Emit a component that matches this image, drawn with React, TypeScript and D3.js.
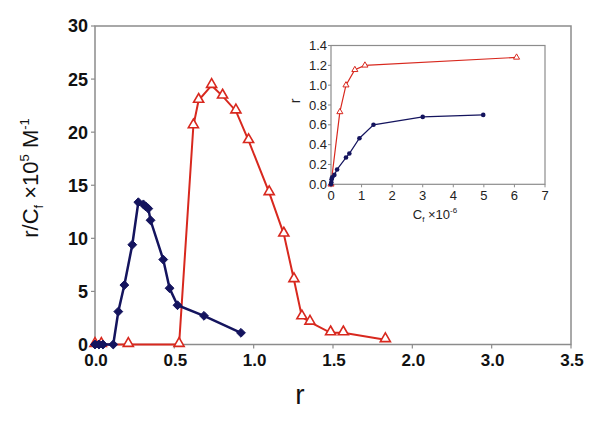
import React from "react";
import * as d3 from "d3";

// Main chart: Scatchard-type plot (r vs r/Cf)
const mainXTicks = [0, 0.5, 1.0, 1.5, 2.0, 2.5, 3.0];
const mainXTickLabels = ["0.0", "0.5", "1.0", "1.5", "2.0", "3.0", "3.5"];
const mainYTicks = [0, 5, 10, 15, 20, 25, 30];

const blueR = [0, 0.025, 0.05, 0.115, 0.147, 0.185, 0.235, 0.273, 0.305, 0.32, 0.336, 0.35, 0.43, 0.47, 0.52, 0.687, 0.92];
const blueRC = [0, 0, 0, 0, 3.1, 5.6, 9.4, 13.4, 13.2, 13.0, 12.8, 11.7, 8.0, 5.3, 3.7, 2.7, 1.1];

const redR = [0, 0.04, 0.21, 0.53, 0.62, 0.653, 0.735, 0.804, 0.888, 0.968, 1.098, 1.19, 1.254, 1.304, 1.355, 1.485, 1.565, 1.83];
const redRC = [0, 0, 0, 0, 20.6, 23.0, 24.4, 23.4, 22.0, 19.2, 14.3, 10.4, 6.1, 2.6, 2.1, 1.1, 1.1, 0.45];

// Inset: binding isotherm (Cf x 10^-6 vs r)
const insetXTicks = [0, 1, 2, 3, 4, 5, 6, 7];
const insetYTicks = [0, 0.2, 0.4, 0.6, 0.8, 1.0, 1.2, 1.4];

const insetBlueCf = [0, 0.01, 0.02, 0.04, 0.11, 0.2, 0.49, 0.6, 0.93, 1.39, 3.0, 4.98];
const insetBlueR = [0, 0.02, 0.05, 0.07, 0.095, 0.15, 0.27, 0.31, 0.465, 0.6, 0.68, 0.7];

const insetRedCf = [0, 0.29, 0.49, 0.78, 1.11, 6.07];
const insetRedR = [0, 0.73, 1.0, 1.155, 1.2, 1.28];

const BLUE = "#14145e";
const RED = "#d8281e";
const GRAY = "#8c8c8c";

export default function App() {
  const W = 600, H = 422;
  // main plot area
  const mx = d3.scaleLinear().domain([0, 3]).range([95, 571]);
  const my = d3.scaleLinear().domain([0, 30]).range([344.5, 26]);
  // inset plot area
  const ix = d3.scaleLinear().domain([0, 7]).range([331, 545]);
  const iy = d3.scaleLinear().domain([0, 1.4]).range([184.3, 45.5]);

  const mainLine = d3.line<[number, number]>().x(d => mx(d[0])).y(d => my(d[1]));
  const insetLine = d3.line<[number, number]>().x(d => ix(d[0])).y(d => iy(d[1]));

  const bluePts: [number, number][] = blueR.map((r, i) => [r, blueRC[i]]);
  const redPts: [number, number][] = redR.map((r, i) => [r, redRC[i]]);
  const iBluePts: [number, number][] = insetBlueCf.map((c, i) => [c, insetBlueR[i]]);
  const iRedPts: [number, number][] = insetRedCf.map((c, i) => [c, insetRedR[i]]);

  const diamond = d3.symbol().type(d3.symbolDiamond2).size(50)() as string;
  const tri = d3.symbol().type(d3.symbolTriangle).size(44)() as string;
  const smallTri = d3.symbol().type(d3.symbolTriangle).size(16)() as string;

  const font = "'Liberation Sans', Arial, sans-serif";

  return (
    <svg width={W} height={H} style={{ position: "absolute", left: 0, top: 0, background: "#fff" }} fontFamily={font}>
      <rect x={0} y={0} width={W} height={H} fill="#fff" />
      {/* main frame */}
      <rect x={mx(0)} y={my(30)} width={mx(3) - mx(0)} height={my(0) - my(30)} fill="none" stroke={GRAY} strokeWidth={1.5} />
      {/* y ticks */}
      {mainYTicks.map(t => (
        <g key={"my" + t}>
          <line x1={mx(0) - 4} x2={mx(0)} y1={my(t)} y2={my(t)} stroke={GRAY} strokeWidth={1.2} />
          <text x={88} y={my(t)} dy="0.36em" textAnchor="end" fontSize={18} fontWeight="bold" fill="#111">{t}</text>
        </g>
      ))}
      {/* x ticks */}
      {mainXTicks.map((t, i) => (
        <g key={"mx" + t}>
          <line x1={mx(t)} x2={mx(t)} y1={my(0)} y2={my(0) + 4} stroke={GRAY} strokeWidth={1.2} />
          <text x={mx(t) + 1} y={366} textAnchor="middle" fontSize={17} fontWeight="bold" fill="#111">{mainXTickLabels[i]}</text>
        </g>
      ))}
      {/* axis titles */}
      <text x={300} y={404} textAnchor="middle" fontSize={28} fill="#111">r</text>
      <text transform={`translate(38,178) rotate(-90)`} textAnchor="middle" fontSize={22} fill="#111">
        r/C<tspan fontSize={13} dy={5}>f</tspan><tspan dy={-5}> ×10</tspan><tspan fontSize={13} dy={-9}>5</tspan><tspan dy={9}> M</tspan><tspan fontSize={13} dy={-9}>-1</tspan>
      </text>

      {/* main series */}
      <path d={mainLine(redPts) as string} fill="none" stroke={RED} strokeWidth={2} />
      <path d={mainLine(bluePts) as string} fill="none" stroke={BLUE} strokeWidth={2.5} />
      {redPts.map((p, i) => (
        <path key={"rp" + i} d={tri} transform={`translate(${mx(p[0])},${my(p[1]) - 1})`} fill="#fff" stroke={RED} strokeWidth={1.6} />
      ))}
      {bluePts.map((p, i) => (
        <path key={"bp" + i} d={diamond} transform={`translate(${mx(p[0])},${my(p[1])})`} fill={BLUE} stroke={BLUE} strokeWidth={1} />
      ))}

      {/* inset */}
      <rect x={ix(0)} y={iy(1.4)} width={ix(7) - ix(0)} height={iy(0) - iy(1.4)} fill="#fff" stroke={GRAY} strokeWidth={1.2} />
      {insetYTicks.map(t => (
        <g key={"iy" + t}>
          <line x1={ix(0) - 3} x2={ix(0)} y1={iy(t)} y2={iy(t)} stroke={GRAY} strokeWidth={1} />
          <text x={327} y={iy(t)} dy="0.36em" textAnchor="end" fontSize={13} fill="#222">{t.toFixed(1)}</text>
        </g>
      ))}
      {insetXTicks.map(t => (
        <g key={"ix" + t}>
          <line x1={ix(t)} x2={ix(t)} y1={iy(0)} y2={iy(0) + 3} stroke={GRAY} strokeWidth={1} />
          <text x={ix(t)} y={200} textAnchor="middle" fontSize={13} fill="#222">{t}</text>
        </g>
      ))}
      <text transform={`translate(300,101) rotate(-90)`} textAnchor="middle" fontSize={14} fill="#222">r</text>
      <text x={435} y={219} textAnchor="middle" fontSize={13} fill="#222">
        C<tspan fontSize={8} dy={3}>f</tspan><tspan dy={-3}> ×10</tspan><tspan fontSize={8} dy={-6}>-6</tspan>
      </text>
      <path d={insetLine(iRedPts) as string} fill="none" stroke={RED} strokeWidth={1.2} />
      <path d={insetLine(iBluePts) as string} fill="none" stroke={BLUE} strokeWidth={1.2} />
      {iRedPts.map((p, i) => (
        <path key={"irp" + i} d={smallTri} transform={`translate(${ix(p[0])},${iy(p[1])})`} fill="#fff" stroke={RED} strokeWidth={1} />
      ))}
      {iBluePts.map((p, i) => (
        <circle key={"ibp" + i} cx={ix(p[0])} cy={iy(p[1])} r={2.3} fill={BLUE} />
      ))}
    </svg>
  );
}
